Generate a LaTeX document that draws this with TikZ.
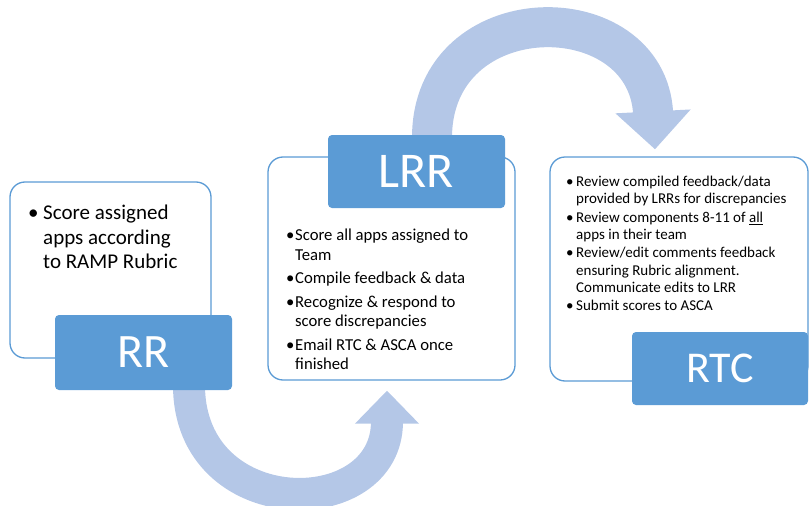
\documentclass[tikz,border=0pt]{standalone}
\usepackage{fontspec}
\setmainfont{Carlito}
\usetikzlibrary{arrows.meta,backgrounds,positioning}
\definecolor{tagblue}{RGB}{91,155,213}
\definecolor{arrowblue}{RGB}{180,199,231}
\newcommand{\bul}[1]{\makebox[#1][l]{\textbullet}}

\begin{document}
\begin{tikzpicture}[x=1pt,y=-1pt,
      box/.style={draw=tagblue,line width=1.3pt,fill=white,rounded corners=15pt},
      tag/.style={fill=tagblue,rounded corners=4pt,text=white,minimum width=177pt},
      big/.style={draw=arrowblue,line cap=butt},
      txt/.style={anchor=north west,inner sep=0pt,align=left,text=black}]
      \useasboundingbox (0,0) rectangle (809,506);
      % white boxes
      \node[box,minimum width=201pt,minimum height=176pt] (rrbox) at (110.5,270) {};
      \node[box,minimum width=247pt,minimum height=223pt] (lrrbox) at (391.5,268.5) {};
      \node[box,minimum width=258pt,minimum height=224pt] (rtcbox) at (679,269) {};
      % blue tags
      \node[tag,minimum height=75pt,font=\fontsize{48}{52}\selectfont] (rrtag) at (143.5,352.5) {RR};
      \node[tag,minimum height=73pt,font=\fontsize{50}{54}\selectfont] (lrrtag) at (416.5,171.5) {LRR};
      \node[tag,minimum width=176pt,minimum height=73pt,font=\fontsize{44}{48}\selectfont] (rtctag) at (720,368.5) {RTC};
      % bullet texts
      \node[txt,font=\fontsize{21}{24.5}\selectfont] (rrtext) at (28,205) {%
        \bul{15pt}Score assigned\\\hspace*{15pt}apps according\\\hspace*{15pt}to RAMP Rubric};
      \node[txt,font=\fontsize{16.7}{19.5}\selectfont] (lrrtext) at (286,229) {%
        \bul{9pt}Score all apps assigned to\\\hspace*{9pt}Team\\[4pt]
        \bul{9pt}Compile feedback \& data\\[4pt]
        \bul{9pt}Recognize \& respond to\\\hspace*{9pt}score discrepancies\\[4pt]
        \bul{9pt}Email RTC \& ASCA once\\\hspace*{9pt}finished};
      \node[txt,font=\fontsize{15}{17.3}\selectfont] (rtctext) at (566,176) {%
        \bul{10pt}Review compiled feedback/data\\\hspace*{10pt}provided by LRRs for discrepancies\\[1pt]
        \bul{10pt}Review components 8-11 of \underline{all}\\\hspace*{10pt}apps in their team\\[1pt]
        \bul{10pt}Review/edit comments feedback\\\hspace*{10pt}ensuring Rubric alignment.\\\hspace*{10pt}Communicate edits to LRR\\[1pt]
        \bul{10pt}Submit scores to ASCA};
      % curved arrows
      \begin{scope}[on background layer]
        \draw[big,line width=40pt,-{Triangle[length=38pt,width=73pt]}]
          ([xshift=15.5pt,yshift=-3pt]lrrtag.north) .. controls +(0,-143) and +(-8,-155) ..
          ([xshift=-24pt,yshift=7pt]rtcbox.north);
        \draw[big,line width=32pt,-{Triangle[length=33pt,width=62pt]}]
          ([xshift=45.5pt,yshift=5pt]rrtag.south) .. controls +(0,138) and +(0,133) ..
          ([xshift=-4.5pt,yshift=-10pt]lrrbox.south);
      \end{scope}
    \end{tikzpicture}
\end{document}
